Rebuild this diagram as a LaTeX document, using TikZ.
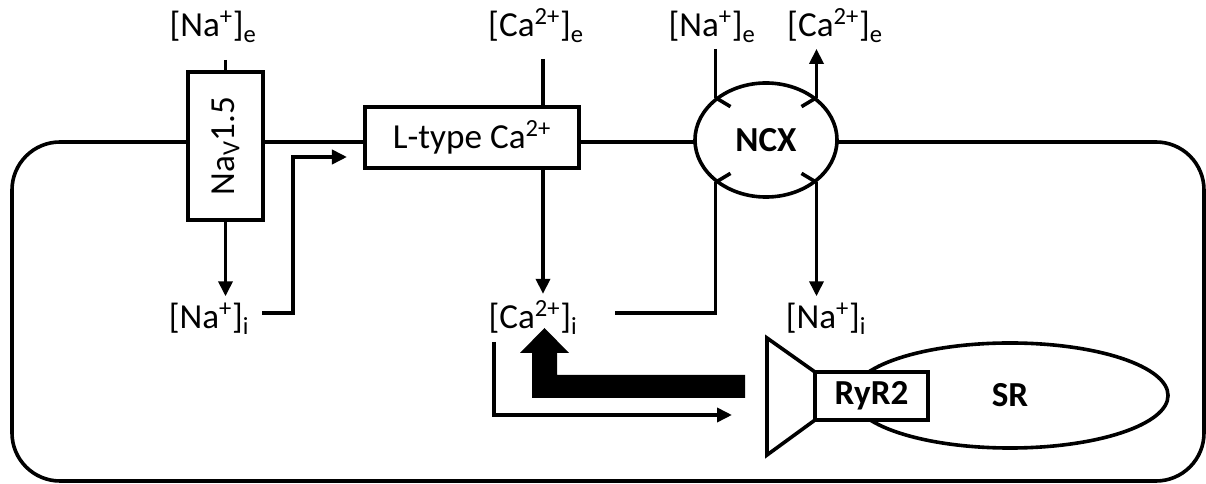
\documentclass[tikz,border=0pt]{standalone}
\usepackage{fontspec}
\setmainfont{Carlito}
\usetikzlibrary{arrows.meta,shapes.geometric}

\tikzset{
    chanbox/.style={draw, fill=white, inner sep=0pt, outer sep=0pt},
    ionlabel/.style={anchor=base},
}

\begin{document}
\begin{tikzpicture}[x=0.025cm, y=-0.025cm, line width=0.09cm,
    >={Triangle[length=0.375cm,width=0.35cm]},
    every node/.style={font=\fontsize{25}{30}\selectfont}]
    \useasboundingbox (0,0) rectangle (1206,484);

    % =================================================================
    % MANG TE BAO
    % =================================================================
    \draw[rounded corners=1.2cm] (12,142) rectangle (1204,481);

    % Kenh tren mang
    \node[chanbox, minimum width=1.875cm, minimum height=3.7cm] (nav) at (225.5,146) {};
    \node[rotate=90] (navtext) at (nav) {Na\textsubscript{V}1.5};
    \node[chanbox, minimum width=5.35cm, minimum height=1.525cm] (ltype) at (472,137.5) {L-type Ca\textsuperscript{2+}};
    \node[draw, fill=white, ellipse, inner sep=0pt, minimum width=3.55cm, minimum height=2.85cm] (ncx) at (766,140) {\bfseries NCX};

    % Nong do ion ngoai / trong
    \node[ionlabel] (naeL) at (213,37) {[Na\textsuperscript{+}]\textsubscript{e}};
    \node[ionlabel] (caeL) at (536,37) {[Ca\textsuperscript{2+}]\textsubscript{e}};
    \node[ionlabel] (naeR) at (712,37) {[Na\textsuperscript{+}]\textsubscript{e}};
    \node[ionlabel] (caeR) at (835,37) {[Ca\textsuperscript{2+}]\textsubscript{e}};
    \node[ionlabel] (naiL) at (209,329) {[Na\textsuperscript{+}]\textsubscript{i}};
    \node[ionlabel] (caiC) at (533,329) {[Ca\textsuperscript{2+}]\textsubscript{i}};
    \node[ionlabel] (naiR) at (826,329) {[Na\textsuperscript{+}]\textsubscript{i}};

    % Cac diem dau / cuoi cua duong noi
    \coordinate (navin) at (225.5,60);
    \coordinate (ltin) at (543,59);
    \coordinate (naout) at (262,313);
    \coordinate (ltarrow) at (347,157);
    \coordinate (caiend) at (615,313);
    \coordinate (caiout) at (494,342);
    \coordinate (ryrin) at (732,415);

    % Na_V1.5
    \draw (navin) -- (nav.north);
    \draw[->] (nav.south) -- (nav.south |- naiL.north);
    \draw[->] (naout) -| (293,157) -- (ltarrow);

    % L-type
    \draw (ltin) -- (ltin |- ltype.north);
    \draw[->] (ltin |- ltype.south) -- (ltin |- caiC.north);

    % NCX
    \draw (ncx.140 |- naeR.south) -- (ncx.140);
    \draw[->] (ncx.40) -- (ncx.40 |- caeR.south);
    \draw (ncx.220) |- (caiend);
    \draw[->] (ncx.320) -- (ncx.320 |- naiR.north);
    \draw (ncx.140) -- ++(15,9);
    \draw (ncx.40) -- ++(-15,9);
    \draw (ncx.220) -- ++(15,-9);
    \draw (ncx.320) -- ++(-15,-9);

    % =================================================================
    % SR VA RyR2
    % =================================================================
    \node[draw, ellipse, inner sep=0pt, minimum width=7.9cm, minimum height=2.625cm] (sr) at (1010,395.5) {\bfseries SR};
    \node[chanbox, minimum width=2.825cm, minimum height=1.2cm] (ryr) at (871.5,396) {\bfseries RyR2};
    \draw[line join=miter] (ryr.north west) -- (767,338) -- (767,455) -- (ryr.south west);

    % Giai phong Ca tu SR (mui ten dam)
    \fill (745,375) -- (557,375) -- (557,353) -- (569,353) -- (544.5,328)
        -- (520,353) -- (532,353) -- (532,398) -- (745,398) -- cycle;
    \draw[->] (caiout) |- (ryrin);

\end{tikzpicture}
\end{document}
